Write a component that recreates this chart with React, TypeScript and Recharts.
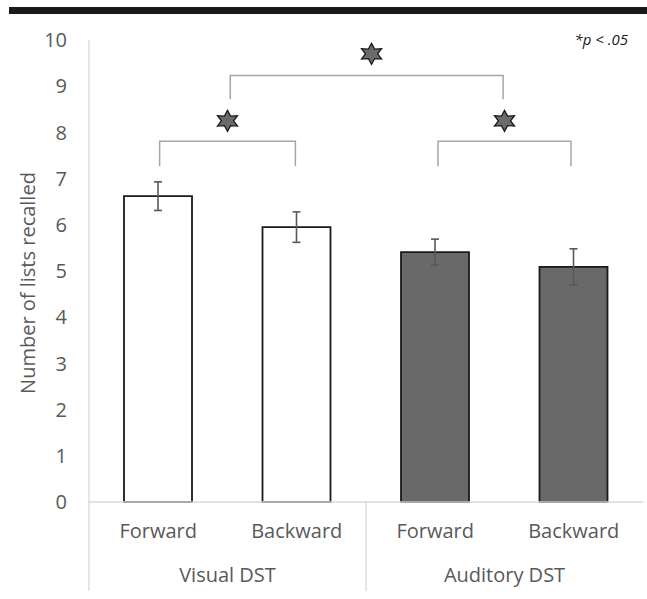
import React from 'react';
import { ComposedChart, Bar, Cell, ErrorBar, Scatter, XAxis, YAxis } from 'recharts';

// values
const conditions = ['Forward', 'Backward', 'Forward', 'Backward'];
const groups = ['Visual DST', 'Visual DST', 'Auditory DST', 'Auditory DST'];
const means = [6.62, 5.95, 5.41, 5.09];
const errors = [0.31, 0.33, 0.28, 0.39];
const yTicks = [0, 1, 2, 3, 4, 5, 6, 7, 8, 9, 10];

// significance brackets, on a 0..4 axis laid over the four bars
const bracketStart = [0.51, 2.52, 1.02];
const bracketEnd = [1.49, 3.48, 2.99];
const bracketLow = [7.27, 7.27, 8.72];
const bracketHigh = [7.81, 7.81, 9.23];
const starX = [1.0, 3.0, 2.04];
const starY = [8.25, 8.25, 9.7];

const rows = conditions.map((condition, i) => ({
  condition,
  group: groups[i],
  mean: means[i],
  err: errors[i],
}));

const brackets = bracketStart.map((x1, i) => [
  { x: x1, y: bracketLow[i] },
  { x: x1, y: bracketHigh[i] },
  { x: bracketEnd[i], y: bracketHigh[i] },
  { x: bracketEnd[i], y: bracketLow[i] },
]);

const stars = starX.map((x, i) => ({ x, y: starY[i] }));

const FONT = '"Open Sans", sans-serif';
const TEXT = '#595959';
const AXIS = '#d9d9d9';

const starPath = (cx: number, cy: number) => {
  const R = 11;
  const r = 5.8;
  const pts: string[] = [];
  for (let k = 0; k < 12; k++) {
    const a = -Math.PI / 2 + (k * Math.PI) / 6;
    const rad = k % 2 === 0 ? R : r;
    pts.push(`${(cx + rad * Math.cos(a) * 1.05).toFixed(2)},${(cy + rad * Math.sin(a) * 0.95).toFixed(2)}`);
  }
  return `M${pts.join('L')}Z`;
};

const Star = (props: any) => {
  const { cx, cy } = props;
  if (cx == null || cy == null) return <g />;
  return <path d={starPath(cx, cy)} fill="#6b6b6b" stroke="#1a1a1a" strokeWidth={1.3} strokeLinejoin="miter" />;
};

const NoDot = () => <g />;

const GroupTick = (props: any) => {
  const { x, y, payload } = props;
  const left = x - (payload.offset || 0);
  return (
    <g>
      <line x1={left} x2={left} y1={y - 67} y2={y + 23} stroke={AXIS} strokeWidth={1.3} />
      <text x={x} y={y} dy="0.71em" textAnchor="middle" fill={TEXT} fontSize={20} fontFamily={FONT}>
        {payload.value}
      </text>
    </g>
  );
};

const AxisTitle = (props: any) => {
  const vb = props.viewBox || { x: 0, y: 40, height: 462 };
  const cx = vb.x + 27;
  const cy = vb.y + vb.height / 2 + 12;
  return (
    <text
      x={cx}
      y={cy}
      transform={`rotate(-90, ${cx}, ${cy})`}
      textAnchor="middle"
      dominantBaseline="central"
      fill={TEXT}
      fontSize={20}
      fontFamily={FONT}
    >
      Number of lists recalled
    </text>
  );
};

export default function App() {
  return (
    <div style={{ position: 'absolute', left: 0, top: 0, width: 647, height: 599, background: '#fff' }}>
      <div style={{ position: 'absolute', left: 9, top: 7, width: 638, height: 7, background: '#1a1a1a' }} />
      <div
        style={{
          position: 'absolute',
          right: 19,
          top: 29,
          fontFamily: FONT,
          fontStyle: 'italic',
          fontSize: 15,
          color: '#1a1a1a',
          lineHeight: '20px',
        }}
      >
        *p &lt; .05
      </div>
      <ComposedChart width={647} height={599} data={rows} margin={{ top: 40, right: 4, bottom: 0, left: 0 }}>
        <XAxis
          xAxisId="cond"
          dataKey="condition"
          height={44}
          axisLine={{ stroke: AXIS, strokeWidth: 1.3 }}
          tickLine={false}
          tickSize={0}
          tickMargin={22}
          tick={{ fill: TEXT, fontSize: 20, fontFamily: FONT }}
        />
        <XAxis
          xAxisId="grp"
          dataKey="group"
          allowDuplicatedCategory={false}
          height={53}
          axisLine={false}
          tickLine={false}
          tickSize={0}
          tickMargin={22}
          tick={<GroupTick />}
        />
        <XAxis xAxisId="num" dataKey="x" type="number" domain={[0, 4]} hide />
        <YAxis
          width={89}
          domain={[0, 10]}
          ticks={yTicks}
          interval={0}
          axisLine={{ stroke: AXIS, strokeWidth: 1.3 }}
          tickLine={false}
          tickSize={0}
          tickMargin={22}
          tick={{ fill: TEXT, fontSize: 20, fontFamily: FONT }}
          label={{ content: <AxisTitle /> }}
        />
        <Bar xAxisId="cond" dataKey="mean" barSize={68} stroke="#1a1a1a" strokeWidth={1.8} isAnimationActive={false}>
          {rows.map((r, i) => (
            <Cell key={`cell-${i}`} fill={r.group === 'Visual DST' ? '#ffffff' : '#696969'} />
          ))}
          <ErrorBar dataKey="err" width={4} stroke="#595959" strokeWidth={1.6} isAnimationActive={false} />
        </Bar>
        {brackets.map((pts, i) => (
          <Scatter
            key={`bracket-${i}`}
            xAxisId="num"
            data={pts}
            dataKey="y"
            line={{ stroke: '#a6a6a6', strokeWidth: 1.5 }}
            lineType="joint"
            shape={<NoDot />}
            isAnimationActive={false}
          />
        ))}
        <Scatter xAxisId="num" data={stars} dataKey="y" shape={<Star />} isAnimationActive={false} />
      </ComposedChart>
    </div>
  );
}
